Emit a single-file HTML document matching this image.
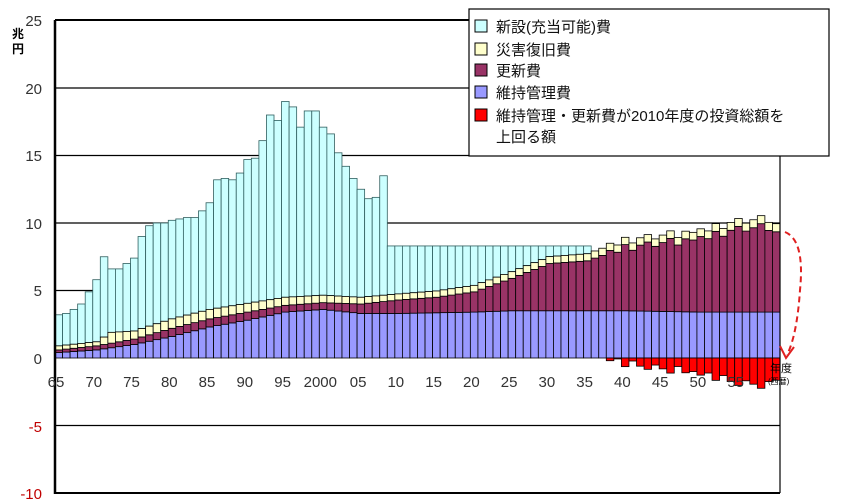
<!DOCTYPE html>
<html><head><meta charset="utf-8"><style>
body{margin:0;background:#fff;width:843px;height:499px;overflow:hidden}
svg{display:block;font-family:"Liberation Sans","Noto Sans CJK JP",sans-serif}
</style></head><body>
<svg id="s" width="843" height="499" viewBox="0 0 843 499" xmlns="http://www.w3.org/2000/svg">
<rect width="843" height="499" fill="#fff"/>
<g id="grid" stroke="#000" stroke-width="1.2">
<line x1="55" y1="88" x2="780" y2="88"/>
<line x1="55" y1="155.5" x2="780" y2="155.5"/>
<line x1="55" y1="223" x2="780" y2="223"/>
<line x1="55" y1="290.5" x2="780" y2="290.5"/>
<line x1="55" y1="425.5" x2="780" y2="425.5"/>
</g>
<g id="bars"></g>
<g stroke="#000" fill="none">
<line x1="55" y1="20" x2="780" y2="20" stroke-width="2"/>
<line x1="55" y1="20" x2="55" y2="494" stroke-width="2.5"/>
<line x1="55" y1="493" x2="780" y2="493" stroke-width="2"/>
<line x1="780" y1="155" x2="780" y2="493" stroke-width="1.2"/>
</g>
<g font-size="15" fill="#333" text-anchor="end">
<text x="42" y="26">25</text><text x="42" y="94">20</text><text x="42" y="161">15</text>
<text x="42" y="229">10</text><text x="42" y="296">5</text><text x="42" y="364">0</text>
<text x="42" y="432" fill="#c00000">-5</text><text x="42" y="499" fill="#c00000">-10</text>
</g>
<text x="12" y="38" font-size="12" font-weight="bold">兆</text>
<text x="12" y="53" font-size="12" font-weight="bold">円</text>
<g id="xl" font-size="15" fill="#333" text-anchor="middle"></g>
<text x="770" y="372" font-size="11">年度</text>
<text x="768" y="384" font-size="8">(西暦)</text>
<path d="M785 232 Q805 240 800 290 Q797 335 787 355" fill="none" stroke="#e02020" stroke-width="2" stroke-dasharray="6,4"/>
<path d="M780 346 L786 358 L794 347" fill="none" stroke="#e02020" stroke-width="2"/>
<rect x="469" y="9" width="360" height="147" fill="#fff" stroke="#000" stroke-width="1.2"/>
<g stroke="#000" stroke-width="1">
<rect x="475" y="20" width="12" height="12" fill="#ccffff"/>
<rect x="475" y="43" width="12" height="12" fill="#ffffcc"/>
<rect x="475" y="64" width="12" height="12" fill="#993366"/>
<rect x="475" y="86" width="12" height="12" fill="#9999ff"/>
<rect x="475" y="109" width="12" height="12" fill="#ff0000"/>
</g>
<g font-size="15" fill="#111">
<text x="496" y="32">新設(充当可能)費</text>
<text x="496" y="55">災害復旧費</text>
<text x="496" y="76">更新費</text>
<text x="496" y="98">維持管理費</text>
<text x="496" y="121">維持管理・更新費が2010年度の投資総額を</text>
<text x="496" y="142">上回る額</text>
</g>
</svg>
<script>
function interp(pts,y){var ks=Object.keys(pts).map(Number).sort(function(a,b){return a-b});
for(var i=0;i<ks.length-1;i++){if(y>=ks[i]&&y<=ks[i+1]){var t=(y-ks[i])/(ks[i+1]-ks[i]);return pts[ks[i]]+(pts[ks[i+1]]-pts[ks[i]])*t;}}return pts[ks[ks.length-1]];}
var blue={1965:0.4,1970:0.6,1975:1.0,1980:1.6,1985:2.3,1990:2.8,1995:3.4,2000:3.6,2005:3.3,2010:3.3,2020:3.4,2025:3.5,2040:3.5,2050:3.4,2060:3.4};
var purp={1965:0.6,1970:0.9,1975:1.4,1980:2.2,1985:2.9,1990:3.4,1995:3.9,2000:4.1,2005:4.0,2010:4.3,2015:4.5,2020:4.9,2025:5.9,2030:7.0,2035:7.2,2037:7.6,2040:8.1,2045:8.5,2050:8.8,2055:9.5,2059:9.7,2060:9.2};
var cream={1965:0.3,1970:0.3,1972:0.8,1975:0.6,1980:0.7,1985:0.7,1995:0.6,2000:0.55,2010:0.45,2060:0.6};
var tot={1965:3.2,1966:3.3,1967:3.6,1968:4.0,1969:4.9,1970:5.8,1971:7.5,1972:6.6,1973:6.6,1974:7.0,1975:7.4,1976:9.0,1977:9.8,1978:10.0,1979:10.0,1980:10.2,1981:10.3,1982:10.4,1983:10.4,1984:10.9,1985:11.5,1986:13.2,1987:13.3,1988:13.2,1989:13.7,1990:14.7,1991:14.8,1992:16.1,1993:18.0,1994:17.6,1995:19.0,1996:18.6,1997:17.1,1998:18.3,1999:18.3,2000:17.1,2001:16.6,2002:15.2,2003:14.2,2004:13.3,2005:12.5,2006:11.8,2007:11.9,2008:13.5};
var jit=[0,0.2,-0.1,0.3,-0.2,0.1,0.25,-0.15,0.05,0.3,-0.25,0.15];
var g='',S=13.5,Z=358,W=725/96;
function r(x,v0,v1,c,sc){var y0=Z-v1*S,h=(v1-v0)*S;if(h<0){y0=Z-v0*S;h=-h}if(h<=0)return '';return '<rect x="'+x.toFixed(2)+'" y="'+y0.toFixed(2)+'" width="'+W.toFixed(2)+'" height="'+h.toFixed(2)+'" fill="'+c+'" stroke="'+(sc||'#000')+'" stroke-width="0.8"/>';}
for(var i=0;i<96;i++){var yr=1965+i,x=55+i*W;
var b=interp(blue,yr),p=interp(purp,yr),c=interp(cream,yr);
if(yr>2036)p+=jit[i%12];
var ct=p+c,t=tot[yr]!==undefined?tot[yr]:(yr<2036?8.3:ct);
if(t<ct)t=ct;
if(t>ct+0.01)g+=r(x,ct,t,'#ccffff','#2f5f5f');
g+=r(x,0,b,'#9999ff')+r(x,b,p,'#993366')+r(x,p,ct,'#ffffcc');
if(yr>=2037&&ct>8.3)g+=r(x,0,-(ct-8.3),'#ff0000');}
document.getElementById('bars').innerHTML=g;
var lb=['65','70','75','80','85','90','95','2000','05','10','15','20','25','30','35','40','45','50','55'],xl='';
for(var k=0;k<lb.length;k++){xl+='<text x="'+(56+k*5*W).toFixed(1)+'" y="387">'+lb[k]+'</text>';}
document.getElementById('xl').innerHTML=xl;
</script>
</body></html>
